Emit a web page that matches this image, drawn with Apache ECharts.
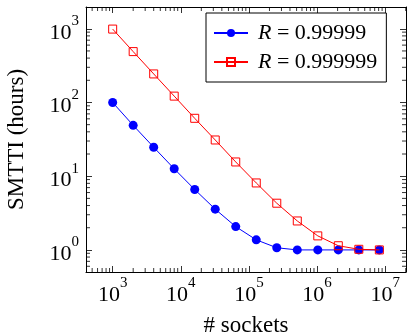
<!DOCTYPE html>
<html>
<head>
<meta charset="utf-8">
<script src="https://cdn.jsdelivr.net/npm/echarts@6/dist/echarts.min.js"></script>
<style>
html, body { margin: 0; padding: 0; background: #fff; }
#main { width: 409px; height: 336px; }
</style>
</head>
<body>
<div id="main"></div>
<script>
// data
var sockets = [1000, 2000, 4000, 8000, 16000, 32000, 64000, 128000, 256000, 512000, 1024000, 2048000, 4096000, 8192000];
var smttiLow = [100, 49, 24.7, 12.6, 6.6, 3.57, 2.07, 1.37, 1.07, 1.0, 1.0, 1.0, 1.0, 1.0];
var smttiHigh = [990, 490, 244, 122, 61, 31, 15.6, 8.1, 4.3, 2.47, 1.55, 1.14, 1.02, 1.0];
var seriesNames = ['R = 0.99999', 'R = 0.999999'];
var legendLabels = ['{i|R} = 0.99999', '{i|R} = 0.999999'];

var FONT = 'Liberation Serif';

// pgfplots style: enlarge log limits by 10% of data range
function enlarged(lo, hi) {
    var a = Math.log10(lo), b = Math.log10(hi), d = (b - a) * 0.1;
    return [Math.pow(10, a - d), Math.pow(10, b + d)];
}
var allY = smttiLow.concat(smttiHigh);
var xr = enlarged(Math.min.apply(null, sockets), Math.max.apply(null, sockets));
var yr = enlarged(Math.min.apply(null, allY), Math.max.apply(null, allY));

// minor tick positions (2..9 x 10^k) inside a range
function minorTicks(r) {
    var out = [];
    for (var e = Math.floor(Math.log10(r[0])); e <= Math.ceil(Math.log10(r[1])); e++) {
        for (var m = 2; m <= 9; m++) {
            var v = m * Math.pow(10, e);
            if (v > r[0] && v < r[1]) out.push(v);
        }
    }
    return out;
}
var xMinor = minorTicks(xr).map(function (v) { return [v, 1]; });
var yMinor = minorTicks(yr).map(function (v) { return [sockets[0], v]; });

function powLabel(v) {
    var e = Math.log10(v);
    if (Math.abs(e - Math.round(e)) > 1e-6) return '';
    return '{b|10}{s|' + Math.round(e) + '}';
}
var powRich = {
    b: { fontFamily: FONT, fontSize: 22, color: '#000', lineHeight: 30, verticalAlign: 'bottom' },
    s: { fontFamily: FONT, fontSize: 15, color: '#000', lineHeight: 16, verticalAlign: 'top' }
};

var MINOR = 4;
var lineStyleBlack = { stroke: '#000', lineWidth: 0.8 };

var myChart = echarts.init(document.getElementById('main'));

function baseAxis(extra) {
    var ax = {
        type: 'log',
        logBase: 10,
        axisLine: { show: true, onZero: false, lineStyle: { color: '#000', width: 1 } },
        axisTick: { show: true, inside: true, length: 6, lineStyle: { color: '#000', width: 0.8 } },
        splitLine: { show: false },
        minorTick: { show: false }
    };
    for (var k in extra) ax[k] = extra[k];
    return ax;
}

var option = {
    animation: false,
    backgroundColor: '#fff',
    textStyle: { fontFamily: FONT },
    grid: { left: 86, right: 3, top: 7, bottom: 64, containLabel: false, outerBoundsMode: 'none' },
    legend: {
        data: seriesNames,
        orient: 'vertical',
        left: 206,
        top: 13,
        padding: [9, 9, 9, 7],
        itemGap: 7,
        itemWidth: 34,
        itemHeight: 10,
        borderColor: '#000',
        borderWidth: 1,
        borderRadius: 0,
        backgroundColor: '#fff',
        formatter: function (name) {
            return legendLabels[seriesNames.indexOf(name)];
        },
        textStyle: {
            fontFamily: FONT, fontSize: 22, color: '#000', padding: [0, 0, 0, 5],
            rich: { i: { fontFamily: FONT, fontSize: 22, fontStyle: 'italic', color: '#000' } }
        }
    },
    xAxis: [
        baseAxis({
            min: xr[0], max: xr[1], position: 'bottom',
            name: '# sockets', nameLocation: 'middle', nameGap: 42,
            nameTextStyle: { fontFamily: FONT, fontSize: 23, color: '#000' },
            axisLabel: { formatter: powLabel, rich: powRich, margin: 4 }
        }),
        baseAxis({
            min: xr[0], max: xr[1], position: 'top',
            axisLabel: { show: false }
        })
    ],
    yAxis: [
        baseAxis({
            min: yr[0], max: yr[1], position: 'left',
            name: 'SMTTI (hours)', nameLocation: 'middle', nameGap: 58,
            nameTextStyle: { fontFamily: FONT, fontSize: 23, color: '#000' },
            axisLabel: { formatter: powLabel, rich: powRich, margin: 7 }
        }),
        baseAxis({
            min: yr[0], max: yr[1], position: 'right',
            axisLabel: { show: false }
        })
    ],
    series: [
        {
            name: seriesNames[0],
            type: 'line',
            data: sockets.map(function (s, i) { return [s, smttiLow[i]]; }),
            symbol: 'circle',
            symbolSize: 9,
            showAllSymbol: true,
            lineStyle: { color: '#0000ff', width: 1 },
            itemStyle: { color: '#0000ff' },
            z: 3
        },
        {
            name: seriesNames[1],
            type: 'line',
            data: sockets.map(function (s, i) { return [s, smttiHigh[i]]; }),
            symbol: 'rect',
            symbolSize: 8,
            showAllSymbol: true,
            lineStyle: { color: '#ff0000', width: 1 },
            itemStyle: { color: 'rgba(255,255,255,0)', borderColor: '#ff0000', borderWidth: 1 },
            z: 4
        },
        {
            // minor ticks on bottom/top
            type: 'custom',
            silent: true,
            clip: false,
            data: xMinor,
            renderItem: function (params, api) {
                var x = api.coord([api.value(0), api.value(1)])[0];
                var cs = params.coordSys;
                return {
                    type: 'group',
                    children: [
                        { type: 'line', shape: { x1: x, y1: cs.y + cs.height, x2: x, y2: cs.y + cs.height - MINOR }, style: lineStyleBlack },
                        { type: 'line', shape: { x1: x, y1: cs.y, x2: x, y2: cs.y + MINOR }, style: lineStyleBlack }
                    ]
                };
            },
            z: 5
        },
        {
            // minor ticks on left/right
            type: 'custom',
            silent: true,
            clip: false,
            data: yMinor,
            renderItem: function (params, api) {
                var y = api.coord([api.value(0), api.value(1)])[1];
                var cs = params.coordSys;
                return {
                    type: 'group',
                    children: [
                        { type: 'line', shape: { x1: cs.x, y1: y, x2: cs.x + MINOR, y2: y }, style: lineStyleBlack },
                        { type: 'line', shape: { x1: cs.x + cs.width, y1: y, x2: cs.x + cs.width - MINOR, y2: y }, style: lineStyleBlack }
                    ]
                };
            },
            z: 5
        }
    ]
};

myChart.setOption(option);
</script>
</body>
</html>
